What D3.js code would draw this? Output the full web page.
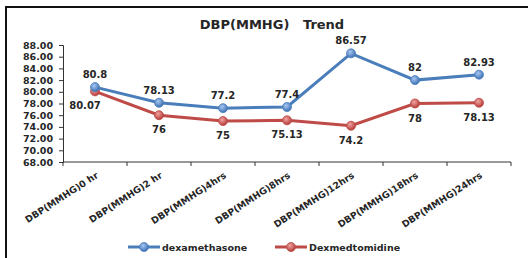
<!DOCTYPE html>
<html>
<head>
  <meta charset="utf-8">
  <title>DBP(MMHG) Trend</title>
  <script src="https://d3js.org/d3.v7.min.js"></script>
  <style>
    body { margin: 0; background: #fff; }
    text { font-family: "DejaVu Sans", Verdana, sans-serif; fill: #262626; }
  </style>
</head>
<body>
  <div id="chart"></div>
  <script>
    // chart data
    var categories = ["DBP(MMHG)0 hr", "DBP(MMHG)2 hr", "DBP(MMHG)4hrs", "DBP(MMHG)8hrs",
                      "DBP(MMHG)12hrs", "DBP(MMHG)18hrs", "DBP(MMHG)24hrs"];
    var dexamethasone = [80.8, 78.13, 77.2, 77.4, 86.57, 82, 82.93];
    var dexmedetomidine = [80.07, 76, 75, 75.13, 74.2, 78, 78.13];
    var yTicks = [68, 70, 72, 74, 76, 78, 80, 82, 84, 86, 88];

    var width = 528, height = 258;
    var svg = d3.select("#chart").append("svg")
      .attr("width", width)
      .attr("height", height);

    // outer frame
    svg.append("rect")
      .attr("x", 6).attr("y", 7)
      .attr("width", 530).attr("height", 270)
      .attr("fill", "none")
      .attr("stroke", "#111")
      .attr("stroke-width", 2);

    svg.append("text")
      .attr("x", 272).attr("y", 29)
      .attr("text-anchor", "middle")
      .style("font-size", "13px")
      .style("font-weight", "bold")
      .attr("xml:space", "preserve")
      .text("DBP(MMHG)   Trend");

    var x = d3.scaleBand().domain(categories).range([63, 511]);
    var y = d3.scaleLinear().domain([68, 88]).range([162, 45]);

    // y axis
    var yAxis = svg.append("g")
      .attr("transform", "translate(63,0)")
      .call(d3.axisLeft(y).tickValues(yTicks).tickFormat(d3.format(".2f")).tickSize(4).tickPadding(6));
    yAxis.selectAll("text").style("font-size", "9.5px").style("font-weight", "bold");
    yAxis.select(".domain").attr("stroke", "#333");
    yAxis.selectAll("line").attr("stroke", "#333");

    // x axis with boundary ticks
    svg.append("line")
      .attr("x1", 63).attr("x2", 511)
      .attr("y1", 162).attr("y2", 162)
      .attr("stroke", "#333");
    svg.selectAll(".bt")
      .data(d3.range(categories.length + 1))
      .enter().append("line")
      .attr("x1", function(i) { return 63 + i * x.bandwidth(); })
      .attr("x2", function(i) { return 63 + i * x.bandwidth(); })
      .attr("y1", 162).attr("y2", 166)
      .attr("stroke", "#333");
    // rotated category labels
    svg.selectAll(".lbl")
      .data(categories)
      .enter().append("text")
      .attr("class", "lbl")
      .attr("text-anchor", "end")
      .attr("x", function(d) { return x(d) + x.bandwidth() / 2 + 4; })
      .attr("y", 177)
      .attr("transform", function(d) {
        return "rotate(-33," + (x(d) + x.bandwidth() / 2 + 4) + ",177)";
      })
      .style("font-size", "9.3px")
      .style("font-weight", "bold")
      .text(function(d) { return d; });

    var defs = svg.append("defs");
    function grad(id, light, dark) {
      var g = defs.append("radialGradient").attr("id", id)
        .attr("cx", "40%").attr("cy", "35%").attr("r", "65%");
      g.append("stop").attr("offset", "0%").attr("stop-color", light);
      g.append("stop").attr("offset", "100%").attr("stop-color", dark);
    }
    grad("gBlue", "#a9c8f0", "#3a6fb5");
    grad("gRed", "#f0a5a3", "#b53a37");

    var series = [
      { name: "dexamethasone", values: dexamethasone, color: "#4a7ebb", fill: "url(#gBlue)", dy: -9 },
      { name: "Dexmedtomidine", values: dexmedetomidine, color: "#be4b48", fill: "url(#gRed)", dy: 18 }
    ];

    var line = d3.line()
      .x(function(d, i) { return x(categories[i]) + x.bandwidth() / 2; })
      .y(function(d) { return y(d); });

    // draw red first so blue sits on top
    series.slice().reverse().forEach(function(s) {
      svg.append("path")
        .datum(s.values)
        .attr("d", line)
        .attr("fill", "none")
        .attr("stroke", s.color)
        .attr("stroke-width", 3);
      svg.selectAll(null)
        .data(s.values)
        .enter().append("circle")
        .attr("cx", function(d, i) { return x(categories[i]) + x.bandwidth() / 2; })
        .attr("cy", function(d) { return y(d); })
        .attr("r", 4.5)
        .attr("fill", s.fill)
        .attr("stroke", s.color)
        .attr("stroke-width", 0.8);
    });

    series.forEach(function(s, k) {
      svg.selectAll(null)
        .data(s.values)
        .enter().append("text")
        .attr("x", function(d, i) {
          var cx = x(categories[i]) + x.bandwidth() / 2;
          return (k === 1 && i === 0) ? cx - 10 : cx;
        })
        .attr("y", function(d) { return y(d) + s.dy; })
        .attr("text-anchor", "middle")
        .style("font-size", "10px")
        .style("font-weight", "bold")
        .text(function(d) { return d; });
    });

    // legend
    var legend = svg.append("g").attr("transform", "translate(0,247)");
    var legX = [128, 275];
    series.forEach(function(s, k) {
      var g = legend.append("g").attr("transform", "translate(" + legX[k] + ",0)");
      g.append("line").attr("x1", 0).attr("x2", 32)
        .attr("stroke", s.color).attr("stroke-width", 3);
      g.append("circle").attr("cx", 16).attr("cy", 0).attr("r", 4.5)
        .attr("fill", s.fill).attr("stroke", s.color).attr("stroke-width", 0.8);
      g.append("text").attr("x", 34).attr("y", 3.5)
        .style("font-size", "9.5px").style("font-weight", "bold")
        .text(s.name);
    });
  </script>
</body>
</html>
